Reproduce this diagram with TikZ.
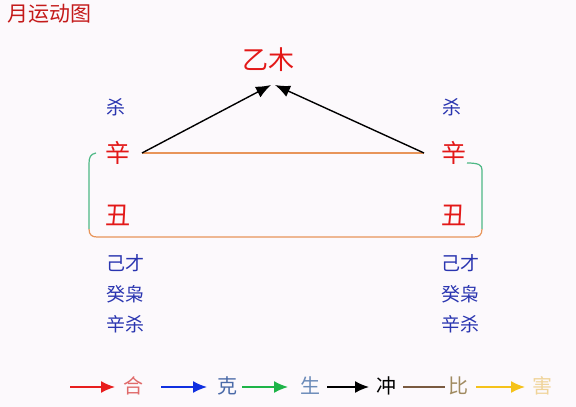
\documentclass[tikz,border=0pt]{standalone}
\usepackage{fontspec}
\setmainfont{Noto Sans CJK SC}
\usetikzlibrary{arrows.meta}
\definecolor{bg}{HTML}{FCF9FC}
\definecolor{bigred}{HTML}{E31818}
\definecolor{titlered}{HTML}{C41A1A}
\definecolor{lblblue}{HTML}{2A35B0}
\definecolor{linkorange}{HTML}{E8955A}
\definecolor{brgreen}{HTML}{4DB885}
\definecolor{lgred}{HTML}{E81E1E}
\definecolor{lgredtxt}{HTML}{E06A6A}
\definecolor{lgblue}{HTML}{1030E0}
\definecolor{lgbluetxt}{HTML}{4A6AA8}
\definecolor{lggreen}{HTML}{1EB448}
\definecolor{lggreentxt}{HTML}{6A8AB8}
\definecolor{lgbrown}{HTML}{7A5A40}
\definecolor{lgbrowntxt}{HTML}{A08A60}
\definecolor{lgyellow}{HTML}{F5C21A}
\definecolor{lgyellowtxt}{HTML}{F0D49A}
\tikzset{
  bigchar/.style={text=bigred, font=\fontsize{25}{25}\selectfont, inner sep=0pt},
  lbl/.style={text=lblblue, font=\fontsize{19}{19}\selectfont, inner sep=0pt},
  lgtxt/.style={font=\fontsize{20}{20}\selectfont, inner sep=0pt},
  tip/.style={-{Latex[length=15pt,width=12pt]}, line width=1.4pt},
  lgarrow/.style={-{Latex[length=14pt,width=12pt]}, line width=1.6pt},
}
\begin{document}
\begin{tikzpicture}[x=1pt,y=-1pt]
\fill[bg] (0,0) rectangle (576,407);
\useasboundingbox (0,0) rectangle (576,407);
% title
\node[anchor=west, text=titlered, font=\fontsize{21}{21}\selectfont, inner sep=0pt] (title) at (7,14) {月运动图};
% top
\node[text=bigred, font=\fontsize{26}{26}\selectfont, inner sep=0pt] (yimu) at (268,60) {乙木};
\coordinate (tipL) at (271,85);
\coordinate (tipR) at (275,85);
% left column
\node[lbl] (shaL) at (116,107) {杀};
\node[bigchar] (xinL) at (118,153) {辛};
\node[bigchar] (chouL) at (118,215) {丑};
\node[lbl] (l1L) at (125,263) {己才};
\node[lbl] (l2L) at (125,294) {癸枭};
\node[lbl] (l3L) at (125,324) {辛杀};
% right column
\node[lbl] (shaR) at (452,107) {杀};
\node[bigchar] (xinR) at (454,153) {辛};
\node[bigchar] (chouR) at (454,215) {丑};
\node[lbl] (l1R) at (460,263) {己才};
\node[lbl] (l2R) at (460,294) {癸枭};
\node[lbl] (l3R) at (460,324) {辛杀};
% connectors
\coordinate (xLe) at (142,153);
\coordinate (xRe) at (424,153);
\draw[linkorange, line width=1.2pt] (xLe) -- (xRe);
\draw[tip] (xLe) -- (tipL);
\draw[tip] (xRe) -- (tipR);
% bracket
\coordinate (bL) at (96,153);
\coordinate (bR) at (467,163);
\draw[brgreen, line width=1.2pt] (bL) .. controls (90,154) and (89,158) .. (89,164) -- (89,229);
\draw[brgreen, line width=1.2pt] (482,229) -- (482,170) .. controls (482,165) and (479,163) .. (bR);
\draw[linkorange, line width=1.2pt] (89,229) .. controls (89,235) and (92,237) .. (97,237) -- (474,237) .. controls (479,237) and (482,235) .. (482,229);
% legend
\coordinate (a1s) at (70,387); \coordinate (a1e) at (115,387);
\draw[lgarrow, lgred] (a1s) -- (a1e);
\node[lgtxt, text=lgredtxt] (he) at (133,386) {合};
\coordinate (a2s) at (161,387); \coordinate (a2e) at (207,387);
\draw[lgarrow, lgblue] (a2s) -- (a2e);
\node[lgtxt, text=lgbluetxt] (ke) at (227,386) {克};
\coordinate (a3s) at (242,387); \coordinate (a3e) at (288,387);
\draw[lgarrow, lggreen] (a3s) -- (a3e);
\node[lgtxt, text=lggreentxt] (sheng) at (310,386) {生};
\coordinate (a4s) at (327,387); \coordinate (a4e) at (369,387);
\draw[lgarrow, black] (a4s) -- (a4e);
\node[lgtxt, text=black] (chong) at (386,386) {冲};
\coordinate (a5s) at (403,387); \coordinate (a5e) at (445,387);
\draw[lgbrown, line width=1.2pt] (a5s) -- (a5e);
\node[lgtxt, text=lgbrowntxt] (bi) at (458,386) {比};
\coordinate (a6s) at (476,387); \coordinate (a6e) at (525,387);
\draw[lgarrow, lgyellow] (a6s) -- (a6e);
\node[lgtxt, text=lgyellowtxt] (hai) at (542,386) {害};
\end{tikzpicture}
\end{document}
